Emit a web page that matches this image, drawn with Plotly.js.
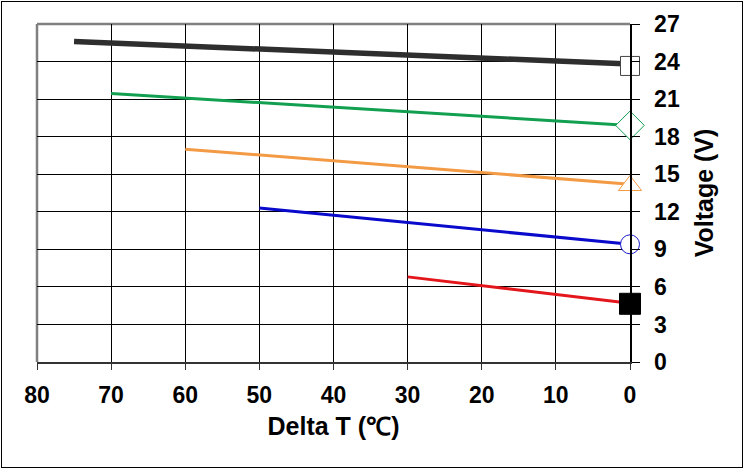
<!DOCTYPE html>
<html>
<head>
<meta charset="utf-8">
<script src="https://cdn.plot.ly/plotly-3.0.1.min.js"></script>
<style>
html,body{margin:0;padding:0;background:#fff;}
#chart{width:744px;height:469px;}
#frame{position:absolute;left:1px;top:1px;width:740px;height:465px;border:1px solid #000;pointer-events:none;}
</style>
</head>
<body>
<div id="chart"></div>
<div id="frame"></div>
<script>
// Data
const xTicks = [80, 70, 60, 50, 40, 30, 20, 10, 0];
const yTicks = [0, 3, 6, 9, 12, 15, 18, 21, 24, 27];

const blackX = [75, 0];
const blackY = [25.6, 23.8];
const greenX = [70, 0];
const greenY = [21.45, 18.9];
const orangeX = [60, 0];
const orangeY = [17.0, 14.2];
const blueX = [50, 0];
const blueY = [12.3, 9.4];
const redX = [30, 0];
const redY = [6.8, 4.7];

// End-point markers at Delta T = 0
const markBlackY = 23.65;
const markGreenY = 18.9;
const markOrangeY = 14.1;
const markBlueY = 9.4;
const markRedY = 4.65;

function lineTrace(x, y, color, width) {
  return {x: x, y: y, mode: 'lines', type: 'scatter', showlegend: false,
    line: {color: color, width: width}, hoverinfo: 'skip'};
}
function markTrace(y, symbol, fill, outline, size, lw) {
  return {x: [0], y: [y], mode: 'markers', type: 'scatter', showlegend: false, cliponaxis: false,
    marker: {symbol: symbol, color: fill, size: size, line: {color: outline, width: lw}}, hoverinfo: 'skip'};
}

const data = [
  lineTrace(blackX, blackY, '#2e2e2e', 5.5),
  lineTrace(greenX, greenY, '#12a050', 3),
  lineTrace(orangeX, orangeY, '#f39a45', 3),
  lineTrace(blueX, blueY, '#0a0acc', 3),
  lineTrace(redX, redY, '#e3161b', 3),
  markTrace(markBlackY, 'square', '#ffffff', '#444444', 19, 1),
  markTrace(markGreenY, 'diamond', '#ffffff', '#12a050', 22, 1),
  markTrace(markOrangeY, 'triangle-up', '#ffffff', '#f39a45', 20, 1),
  markTrace(markBlueY, 'circle', '#ffffff', '#1a1acc', 19, 1),
  markTrace(markRedY, 'square', '#000000', '#000000', 21, 1)
];

const fam = '"Liberation Sans Narrow", "Arial Narrow", "Liberation Sans", Arial, sans-serif';
const tickFont = {family: fam, size: 23, color: '#000'};
const titleFont = {family: fam, size: 25, color: '#000'};

const layout = {
  width: 744, height: 469,
  margin: {l: 37, r: 114, t: 24, b: 107},
  paper_bgcolor: '#fff', plot_bgcolor: '#fff',
  showlegend: false,
  xaxis: {
    range: [80, 0], tickvals: xTicks, ticktext: xTicks.map(v => '<b>' + v + '</b>'),
    showgrid: true, gridcolor: '#000', gridwidth: 1,
    zeroline: false, showline: true, linecolor: '#333', linewidth: 1.5,
    ticks: 'outside', ticklen: 6, tickcolor: '#333', tickfont: tickFont,
    ticklabelstandoff: 6,
    title: {text: '<b>Delta T (℃)</b>', font: titleFont, standoff: 10}
  },
  yaxis: {
    range: [0, 27], side: 'right', tickvals: yTicks, ticktext: yTicks.map(v => '<b>' + v + '</b>'),
    showgrid: true, gridcolor: '#000', gridwidth: 1,
    zeroline: false, showline: true, linecolor: '#000', linewidth: 1.5,
    ticks: 'outside', ticklen: 8, tickcolor: '#000', tickfont: tickFont,
    ticklabelstandoff: 10,
    title: {text: '<b>Voltage (V)</b>', font: titleFont, standoff: 16}
  },
  shapes: [
    {type: 'line', xref: 'paper', yref: 'paper', x0: 0, x1: 1, y0: 1, y1: 1, line: {color: '#808080', width: 2.5}, layer: 'below'},
    {type: 'line', xref: 'paper', yref: 'paper', x0: 0, x1: 0, y0: 0, y1: 1, line: {color: '#808080', width: 2.5}, layer: 'below'}
  ]
};

Plotly.newPlot('chart', data, layout, {staticPlot: true, displayModeBar: false});
</script>
</body>
</html>
